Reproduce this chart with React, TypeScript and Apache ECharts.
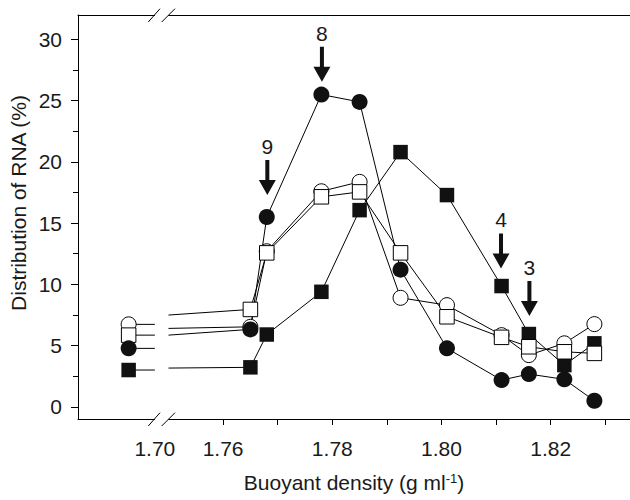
import React, { useEffect, useRef } from "react";
import * as echarts from "echarts";

// ---- data (buoyant density in g/ml, distribution of RNA in %) ----
const LEFT_DENSITY = 1.6952; // fraction left of the axis break
const BREAK_LEFT_END = 1.7; // last density drawn before the break
const BREAK_RIGHT_START = 1.75; // first density drawn after the break
const BREAK_OFFSET = 0.0475; // shift that brings the left section next to the break

const density = [1.765, 1.768, 1.778, 1.785, 1.7925, 1.801, 1.811, 1.816, 1.8225, 1.828];

const openCircleLeft = 6.73;
const openCircleEntry = 6.4;
const openCircleValues = [6.53, 12.7, 17.6, 18.37, 8.9, 8.3, 5.85, 4.22, 5.18, 6.75];

const filledSquareLeft = 3.0;
const filledSquareEntry = 3.16;
const filledSquareValues = [3.22, 5.9, 9.39, 16.06, 20.8, 17.29, 9.86, 5.94, 3.4, 5.18];

const openSquareLeft = 5.85;
const openSquareEntry = 7.49;
const openSquareValues = [7.95, 12.57, 17.15, 17.55, 12.57, 7.35, 5.67, 4.9, 4.49, 4.36];

const filledCircleLeft = 4.77;
const filledCircleEntry = 5.85;
const filledCircleValues = [6.32, 15.5, 25.5, 24.9, 11.2, 4.77, 2.18, 2.67, 2.24, 0.49];

const xLabelValues = [1.7, 1.76, 1.78, 1.8, 1.82];
const xTickValues = [1.76, 1.77, 1.78, 1.79, 1.8, 1.81, 1.82, 1.83];
const yLabelValues = [0, 5, 10, 15, 20, 25, 30];
const yMinorTickValues = [2.5, 7.5, 12.5, 17.5, 22.5, 27.5];

const annotationText = ["9", "8", "4", "3"];
const annotationDensity = [1.7681, 1.7781, 1.8109, 1.8161];
const annotationTipValue = [17.29, 26.54, 11.3, 7.41];

// ---- helpers / styles ----
const FONT = "'Liberation Sans', Arial, Helvetica, sans-serif";
const INK = "#1a1a1a";
const X_MIN = 1.733425;
const X_MAX = 1.834524;

const toDisplay = (d: number) => (d < 1.72 ? d + BREAK_OFFSET : d);

function buildData(left: number, entry: number, values: number[]) {
  const gapX = (toDisplay(BREAK_LEFT_END) + BREAK_RIGHT_START) / 2;
  return [
    [toDisplay(LEFT_DENSITY), left],
    { value: [toDisplay(BREAK_LEFT_END), left], symbol: "none" },
    [gapX, "-"],
    { value: [BREAK_RIGHT_START, entry], symbol: "none" },
    ...density.map((d, i) => [d, values[i]]),
  ];
}

function lineSeries(name: string, data: any[], symbol: string, size: number, filled: boolean) {
  return {
    name,
    type: "line",
    data,
    symbol,
    symbolSize: size,
    connectNulls: false,
    lineStyle: { color: "#000", width: 1 },
    itemStyle: {
      color: filled ? "#111" : "#fff",
      borderColor: "#000",
      borderWidth: filled ? 0 : 1,
      opacity: 1,
    },
    emphasis: { disabled: true },
  };
}

const ARROW_PATH = "path://M6.5,0L10.5,0L10.5,20L17,20L8.5,35L0,20L6.5,20Z";

export default function App() {
  const ref = useRef<HTMLDivElement>(null);

  useEffect(() => {
    if (!ref.current) return;
    const chart = echarts.init(ref.current, undefined, { renderer: "svg" });

    const option: any = {
      animation: false,
      backgroundColor: "#fff",
      grid: { left: 78, right: 0, top: 15, bottom: 81 },
      xAxis: [
        {
          type: "value",
          position: "bottom",
          min: X_MIN,
          max: X_MAX,
          axisLine: { show: true, onZero: false, lineStyle: { color: "#000", width: 1 } },
          axisTick: {
            show: true,
            customValues: xTickValues,
            length: 6,
            lineStyle: { color: "#000", width: 1 },
          },
          axisLabel: {
            customValues: xLabelValues.map(toDisplay),
            formatter: (v: number) => (v < 1.755 ? (v - BREAK_OFFSET).toFixed(2) : v.toFixed(2)),
            fontSize: 21,
            fontFamily: FONT,
            color: INK,
            margin: 19,
          },
          splitLine: { show: false },
          name: "Buoyant density (g ml{sup|-1})",
          nameLocation: "middle",
          nameGap: 53,
          nameTextStyle: {
            fontSize: 21,
            fontFamily: FONT,
            color: INK,
            rich: {
              sup: { fontSize: 13, fontFamily: FONT, color: INK, verticalAlign: "top" },
            },
          },
        },
        {
          type: "value",
          position: "top",
          min: X_MIN,
          max: X_MAX,
          axisLine: { show: true, onZero: false, lineStyle: { color: "#000", width: 1 } },
          axisTick: { show: false },
          axisLabel: { show: false },
          splitLine: { show: false },
        },
      ],
      yAxis: [
        {
          type: "value",
          min: -1,
          max: 32,
          axisLine: { show: true, onZero: false, lineStyle: { color: "#000", width: 1 } },
          axisTick: {
            show: true,
            customValues: yLabelValues,
            length: 7,
            lineStyle: { color: "#000", width: 1 },
          },
          axisLabel: {
            customValues: yLabelValues,
            fontSize: 21,
            fontFamily: FONT,
            color: INK,
            margin: 16,
          },
          splitLine: { show: false },
        },
        {
          type: "value",
          position: "left",
          min: -1,
          max: 32,
          axisLine: { show: false, onZero: false },
          axisTick: {
            show: true,
            customValues: yMinorTickValues,
            length: 5,
            lineStyle: { color: "#000", width: 1 },
          },
          axisLabel: { show: false },
          splitLine: { show: false },
        },
      ],
      series: [
        lineSeries("open circle", buildData(openCircleLeft, openCircleEntry, openCircleValues), "circle", 15, false),
        lineSeries("filled square", buildData(filledSquareLeft, filledSquareEntry, filledSquareValues), "rect", 14.5, true),
        lineSeries("open square", buildData(openSquareLeft, openSquareEntry, openSquareValues), "rect", 14.5, false),
        lineSeries("filled circle", buildData(filledCircleLeft, filledCircleEntry, filledCircleValues), "circle", 16, true),
        {
          name: "fractions",
          type: "scatter",
          z: 5,
          symbol: ARROW_PATH,
          symbolSize: [17, 35],
          symbolOffset: [0, "-50%"],
          itemStyle: { color: "#111", opacity: 1 },
          label: {
            show: true,
            position: "top",
            distance: 3,
            fontSize: 21,
            fontFamily: FONT,
            color: INK,
            opacity: 1,
          },
          emphasis: { disabled: true },
          data: annotationDensity.map((d, i) => ({
            value: [d, annotationTipValue[i]],
            label: { formatter: annotationText[i] },
          })),
        },
      ],
      graphic: [
        {
          type: "text",
          x: 18.5,
          y: 203,
          rotation: Math.PI / 2,
          style: {
            text: "Distribution of RNA (%)",
            fontSize: 21,
            fontFamily: FONT,
            fill: INK,
            align: "center",
            verticalAlign: "middle",
          },
        },
        { type: "rect", z: 100, shape: { x: 155, y: 412, width: 13.3, height: 14 }, style: { fill: "#fff" } },
        { type: "rect", z: 100, shape: { x: 155, y: 8, width: 13.3, height: 14 }, style: { fill: "#fff" } },
        { type: "line", z: 101, shape: { x1: 148.3, y1: 426, x2: 160, y2: 412.7 }, style: { stroke: "#000", lineWidth: 1 } },
        { type: "line", z: 101, shape: { x1: 161.7, y1: 426, x2: 175, y2: 412.7 }, style: { stroke: "#000", lineWidth: 1 } },
        { type: "line", z: 101, shape: { x1: 148.3, y1: 22, x2: 160, y2: 8.7 }, style: { stroke: "#000", lineWidth: 1 } },
        { type: "line", z: 101, shape: { x1: 161.7, y1: 22, x2: 175, y2: 8.7 }, style: { stroke: "#000", lineWidth: 1 } },
      ],
    };

    chart.setOption(option);
    return () => chart.dispose();
  }, []);

  return (
    <div
      ref={ref}
      style={{ position: "absolute", left: 0, top: 0, width: 630, height: 500, background: "#fff" }}
    />
  );
}
